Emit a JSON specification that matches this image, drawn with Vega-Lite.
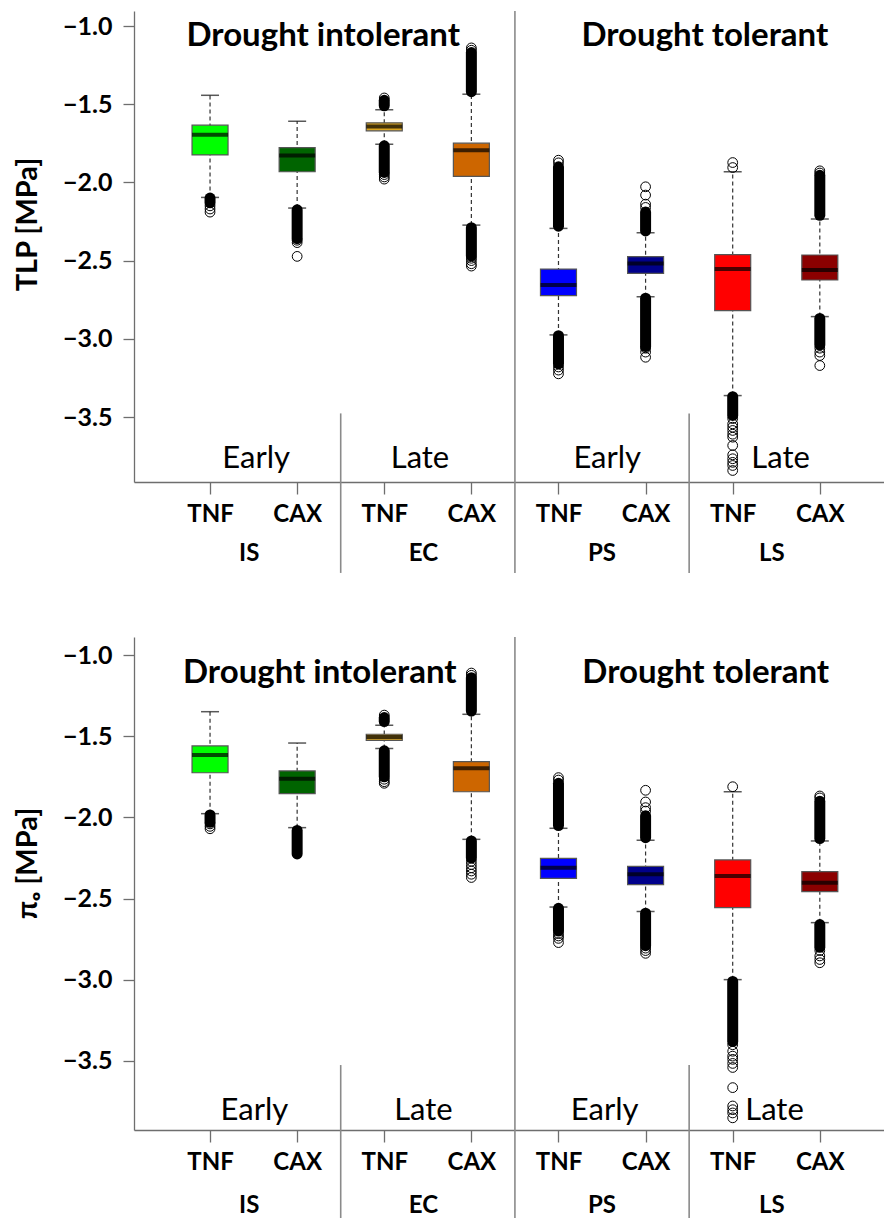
{
  "$schema": "https://vega.github.io/schema/vega-lite/v6.json",
  "padding": {"left": 13, "top": 10, "right": 0, "bottom": 0},
  "bounds": "flush",
  "spacing": 155,
  "config": {
    "view": {"stroke": null},
    "font": "Lato",
    "axis": {"grid": false, "domainColor": "#6e6e6e", "tickColor": "#6e6e6e", "domainWidth": 1.3, "tickWidth": 1.3, "labelColor": "#000", "labelFont": "Lato", "labelFontWeight": "bold", "titleFont": "Lato", "titleColor": "#000"},
    "axisX": {"labelFontSize": 24, "tickSize": 12, "labelPadding": 8, "labelOverlap": false, "labelFlush": false},
    "axisY": {"labelFontSize": 25, "tickSize": 11, "labelPadding": 11, "minExtent": 70, "maxExtent": 70, "titleFontSize": 29, "titleFontWeight": "bold", "titlePadding": 22}
  },
  "datasets": {
    "boxT": [
      {"pos": 1, "id": "IS TNF", "lw": -2.096, "q1": -1.824, "med": -1.696, "q3": -1.634, "uw": -1.443},
      {"pos": 2, "id": "IS CAX", "lw": -2.164, "q1": -1.932, "med": -1.828, "q3": -1.777, "uw": -1.609},
      {"pos": 3, "id": "EC TNF", "lw": -1.756, "q1": -1.670, "med": -1.643, "q3": -1.619, "uw": -1.536},
      {"pos": 4, "id": "EC CAX", "lw": -2.273, "q1": -1.962, "med": -1.794, "q3": -1.749, "uw": -1.436},
      {"pos": 5, "id": "PS TNF", "lw": -2.975, "q1": -2.724, "med": -2.656, "q3": -2.554, "uw": -2.294},
      {"pos": 6, "id": "PS CAX", "lw": -2.731, "q1": -2.582, "med": -2.518, "q3": -2.475, "uw": -2.322},
      {"pos": 7, "id": "LS TNF", "lw": -3.363, "q1": -2.820, "med": -2.554, "q3": -2.462, "uw": -1.932},
      {"pos": 8, "id": "LS CAX", "lw": -2.858, "q1": -2.624, "med": -2.560, "q3": -2.464, "uw": -2.234}
    ],
    "denseT": [
      {"pos": 1, "lo": -2.13, "hi": -2.10},
      {"pos": 2, "lo": -2.36, "hi": -2.175},
      {"pos": 3, "lo": -1.51, "hi": -1.475},
      {"pos": 3, "lo": -1.936, "hi": -1.766},
      {"pos": 4, "lo": -1.42, "hi": -1.17},
      {"pos": 4, "lo": -2.47, "hi": -2.29},
      {"pos": 5, "lo": -2.28, "hi": -1.90},
      {"pos": 5, "lo": -3.16, "hi": -2.98},
      {"pos": 6, "lo": -2.31, "hi": -2.19},
      {"pos": 6, "lo": -3.05, "hi": -2.74},
      {"pos": 7, "lo": -3.49, "hi": -3.37},
      {"pos": 8, "lo": -2.21, "hi": -1.955},
      {"pos": 8, "lo": -3.04, "hi": -2.87}
    ],
    "outT": [
      {"pos": 1, "v": -2.15}, {"pos": 1, "v": -2.17}, {"pos": 1, "v": -2.19},
      {"pos": 2, "v": -2.37}, {"pos": 2, "v": -2.385}, {"pos": 2, "v": -2.473},
      {"pos": 3, "v": -1.46}, {"pos": 3, "v": -1.95}, {"pos": 3, "v": -1.965}, {"pos": 3, "v": -1.979},
      {"pos": 4, "v": -1.14}, {"pos": 4, "v": -1.155}, {"pos": 4, "v": -2.485}, {"pos": 4, "v": -2.50}, {"pos": 4, "v": -2.52}, {"pos": 4, "v": -2.535},
      {"pos": 5, "v": -1.858}, {"pos": 5, "v": -1.875}, {"pos": 5, "v": -3.18}, {"pos": 5, "v": -3.20}, {"pos": 5, "v": -3.224},
      {"pos": 6, "v": -2.028}, {"pos": 6, "v": -2.081}, {"pos": 6, "v": -2.139}, {"pos": 6, "v": -2.16}, {"pos": 6, "v": -3.06}, {"pos": 6, "v": -3.085}, {"pos": 6, "v": -3.118},
      {"pos": 7, "v": -1.873}, {"pos": 7, "v": -1.905}, {"pos": 7, "v": -3.51}, {"pos": 7, "v": -3.544}, {"pos": 7, "v": -3.565}, {"pos": 7, "v": -3.586}, {"pos": 7, "v": -3.61}, {"pos": 7, "v": -3.629}, {"pos": 7, "v": -3.682}, {"pos": 7, "v": -3.742}, {"pos": 7, "v": -3.767}, {"pos": 7, "v": -3.79}, {"pos": 7, "v": -3.81}, {"pos": 7, "v": -3.842},
      {"pos": 8, "v": -1.926}, {"pos": 8, "v": -1.94}, {"pos": 8, "v": -3.06}, {"pos": 8, "v": -3.085}, {"pos": 8, "v": -3.107}, {"pos": 8, "v": -3.171}
    ],
    "divT": [
      {"pos": 4.5, "y1": -0.904, "y2": -4.497},
      {"pos": 2.5, "y1": -3.477, "y2": -4.497},
      {"pos": 6.5, "y1": -3.477, "y2": -4.497}
    ],
    "headT": [
      {"pos": 2.3, "v": -1.128, "t": "Drought intolerant"},
      {"pos": 6.68, "v": -1.128, "t": "Drought tolerant"}
    ],
    "phaseT": [
      {"pos": 1.53, "v": -3.829, "t": "Early"},
      {"pos": 3.41, "v": -3.829, "t": "Late"},
      {"pos": 5.56, "v": -3.829, "t": "Early"},
      {"pos": 7.55, "v": -3.829, "t": "Late"}
    ],
    "grpT": [
      {"pos": 1.45, "v": -4.421, "t": "IS"},
      {"pos": 3.45, "v": -4.421, "t": "EC"},
      {"pos": 5.5, "v": -4.421, "t": "PS"},
      {"pos": 7.45, "v": -4.421, "t": "LS"}
    ],
    "boxB": [
      {"pos": 1, "id": "IS TNF", "lw": -1.977, "q1": -1.725, "med": -1.616, "q3": -1.560, "uw": -1.349},
      {"pos": 2, "id": "IS CAX", "lw": -2.063, "q1": -1.854, "med": -1.762, "q3": -1.714, "uw": -1.542},
      {"pos": 3, "id": "EC TNF", "lw": -1.575, "q1": -1.525, "med": -1.505, "q3": -1.488, "uw": -1.433},
      {"pos": 4, "id": "EC CAX", "lw": -2.135, "q1": -1.842, "med": -1.698, "q3": -1.657, "uw": -1.365},
      {"pos": 5, "id": "PS TNF", "lw": -2.552, "q1": -2.375, "med": -2.310, "q3": -2.252, "uw": -2.067},
      {"pos": 6, "id": "PS CAX", "lw": -2.580, "q1": -2.414, "med": -2.350, "q3": -2.301, "uw": -2.141},
      {"pos": 7, "id": "LS TNF", "lw": -2.999, "q1": -2.556, "med": -2.361, "q3": -2.262, "uw": -1.842},
      {"pos": 8, "id": "LS CAX", "lw": -2.648, "q1": -2.457, "med": -2.402, "q3": -2.334, "uw": -2.145}
    ],
    "denseB": [
      {"pos": 1, "lo": -2.03, "hi": -1.985},
      {"pos": 2, "lo": -2.225, "hi": -2.08},
      {"pos": 3, "lo": -1.41, "hi": -1.385},
      {"pos": 3, "lo": -1.75, "hi": -1.59},
      {"pos": 4, "lo": -1.345, "hi": -1.14},
      {"pos": 4, "lo": -2.25, "hi": -2.145},
      {"pos": 5, "lo": -2.05, "hi": -1.79},
      {"pos": 5, "lo": -2.70, "hi": -2.56},
      {"pos": 6, "lo": -2.125, "hi": -1.99},
      {"pos": 6, "lo": -2.79, "hi": -2.59},
      {"pos": 7, "lo": -3.38, "hi": -3.01},
      {"pos": 8, "lo": -2.13, "hi": -1.90},
      {"pos": 8, "lo": -2.80, "hi": -2.66}
    ],
    "outB": [
      {"pos": 1, "v": -2.04}, {"pos": 1, "v": -2.055}, {"pos": 1, "v": -2.07},
      {"pos": 3, "v": -1.37}, {"pos": 3, "v": -1.765}, {"pos": 3, "v": -1.78}, {"pos": 3, "v": -1.79},
      {"pos": 4, "v": -1.111}, {"pos": 4, "v": -1.125}, {"pos": 4, "v": -2.27}, {"pos": 4, "v": -2.29}, {"pos": 4, "v": -2.31}, {"pos": 4, "v": -2.33}, {"pos": 4, "v": -2.35}, {"pos": 4, "v": -2.37},
      {"pos": 5, "v": -1.755}, {"pos": 5, "v": -1.77}, {"pos": 5, "v": -2.715}, {"pos": 5, "v": -2.73}, {"pos": 5, "v": -2.745}, {"pos": 5, "v": -2.771},
      {"pos": 6, "v": -1.833}, {"pos": 6, "v": -1.905}, {"pos": 6, "v": -1.94}, {"pos": 6, "v": -1.961}, {"pos": 6, "v": -2.805}, {"pos": 6, "v": -2.82}, {"pos": 6, "v": -2.837},
      {"pos": 7, "v": -1.811}, {"pos": 7, "v": -3.40}, {"pos": 7, "v": -3.44}, {"pos": 7, "v": -3.47}, {"pos": 7, "v": -3.49}, {"pos": 7, "v": -3.515}, {"pos": 7, "v": -3.54}, {"pos": 7, "v": -3.664}, {"pos": 7, "v": -3.777}, {"pos": 7, "v": -3.80}, {"pos": 7, "v": -3.82}, {"pos": 7, "v": -3.85},
      {"pos": 8, "v": -1.868}, {"pos": 8, "v": -1.88}, {"pos": 8, "v": -2.82}, {"pos": 8, "v": -2.853}, {"pos": 8, "v": -2.875}, {"pos": 8, "v": -2.895}
    ],
    "divB": [
      {"pos": 4.5, "y1": -0.889, "y2": -4.467},
      {"pos": 2.5, "y1": -3.525, "y2": -4.467},
      {"pos": 6.5, "y1": -3.525, "y2": -4.467}
    ],
    "headB": [
      {"pos": 2.26, "v": -1.172, "t": "Drought intolerant"},
      {"pos": 6.69, "v": -1.172, "t": "Drought tolerant"}
    ],
    "phaseB": [
      {"pos": 1.51, "v": -3.865, "t": "Early"},
      {"pos": 3.45, "v": -3.865, "t": "Late"},
      {"pos": 5.53, "v": -3.865, "t": "Early"},
      {"pos": 7.48, "v": -3.865, "t": "Late"}
    ],
    "grpB": [
      {"pos": 1.45, "v": -4.436, "t": "IS"},
      {"pos": 3.45, "v": -4.436, "t": "EC"},
      {"pos": 5.5, "v": -4.436, "t": "PS"},
      {"pos": 7.45, "v": -4.436, "t": "LS"}
    ]
  },
  "vconcat": [
    {
      "width": 751,
      "height": 471,
      "encoding": {
        "x": {"field": "pos", "type": "quantitative", "scale": {"domain": [0.1845, 8.691], "nice": false, "zero": false},
              "axis": {"values": [1, 2, 3, 4, 5, 6, 7, 8], "labelExpr": "datum.value % 2 == 1 ? 'TNF' : 'CAX'", "title": null}}
      },
      "layer": [
        {
          "data": {"name": "divT"},
          "mark": {"type": "rule", "color": "#8a8a8a", "strokeWidth": 1.6},
          "encoding": {
            "y": {"field": "y1", "type": "quantitative", "scale": {"domain": [-3.9156, -0.904], "nice": false, "zero": false},
                  "axis": {"values": [-1, -1.5, -2, -2.5, -3, -3.5], "format": ".1f", "title": "TLP [MPa]", "titleY": 213}},
            "y2": {"field": "y2"}
          }
        },
        {
          "data": {"values": [{}]},
          "mark": {"type": "rule", "color": "#6e6e6e", "strokeWidth": 1.3},
          "encoding": {
            "x": {"datum": 0.1845, "type": "quantitative"},
            "x2": {"datum": 8.691},
            "y": {"datum": -0.904, "type": "quantitative"}
          }
        },
        {
          "data": {"name": "boxT"},
          "mark": {"type": "rule", "color": "#333", "strokeWidth": 1.2, "strokeDash": [4, 3]},
          "encoding": {"y": {"field": "lw", "type": "quantitative"}, "y2": {"field": "uw"}}
        },
        {
          "data": {"name": "boxT"},
          "mark": {"type": "tick", "color": "#111", "size": 18, "thickness": 1.5, "orient": "horizontal"},
          "encoding": {"y": {"field": "lw", "type": "quantitative"}}
        },
        {
          "data": {"name": "boxT"},
          "mark": {"type": "tick", "color": "#111", "size": 18, "thickness": 1.5, "orient": "horizontal"},
          "encoding": {"y": {"field": "uw", "type": "quantitative"}}
        },
        {
          "data": {"name": "denseT"},
          "mark": {"type": "rule", "color": "#000", "strokeWidth": 11, "strokeCap": "round"},
          "encoding": {"y": {"field": "lo", "type": "quantitative"}, "y2": {"field": "hi"}}
        },
        {
          "data": {"name": "outT"},
          "mark": {"type": "point", "shape": "circle", "filled": false, "color": "#000", "size": 95, "strokeWidth": 1, "opacity": 1},
          "encoding": {"y": {"field": "v", "type": "quantitative"}}
        },
        {
          "data": {"name": "boxT"},
          "mark": {"type": "bar", "width": 36, "stroke": "#555", "strokeWidth": 1.2},
          "encoding": {
            "y": {"field": "q1", "type": "quantitative"},
            "y2": {"field": "q3"},
            "fill": {"field": "id", "type": "nominal", "legend": null,
                     "scale": {"domain": ["IS TNF", "IS CAX", "EC TNF", "EC CAX", "PS TNF", "PS CAX", "LS TNF", "LS CAX"],
                               "range": ["#00ff00", "#006400", "#daa520", "#cd6600", "#0000ff", "#00008b", "#ff0000", "#8b0000"]}}
          }
        },
        {
          "data": {"name": "boxT"},
          "mark": {"type": "tick", "color": "#000", "size": 36, "thickness": 4, "orient": "horizontal"},
          "encoding": {"y": {"field": "med", "type": "quantitative"}}
        },
        {
          "data": {"name": "headT"},
          "mark": {"type": "text", "font": "Lato", "fontSize": 33, "fontWeight": "bold", "align": "center", "baseline": "alphabetic", "color": "#000"},
          "encoding": {"y": {"field": "v", "type": "quantitative"}, "text": {"field": "t"}}
        },
        {
          "data": {"name": "phaseT"},
          "mark": {"type": "text", "font": "Lato", "fontSize": 31, "align": "center", "baseline": "alphabetic", "color": "#000"},
          "encoding": {"y": {"field": "v", "type": "quantitative"}, "text": {"field": "t"}}
        },
        {
          "data": {"name": "grpT"},
          "mark": {"type": "text", "font": "Lato", "fontSize": 24, "fontWeight": "bold", "align": "center", "baseline": "alphabetic", "color": "#000"},
          "encoding": {"y": {"field": "v", "type": "quantitative"}, "text": {"field": "t"}}
        }
      ]
    },
    {
      "width": 751,
      "height": 493,
      "encoding": {
        "x": {"field": "pos", "type": "quantitative", "scale": {"domain": [0.1845, 8.691], "nice": false, "zero": false},
              "axis": {"values": [1, 2, 3, 4, 5, 6, 7, 8], "labelExpr": "datum.value % 2 == 1 ? 'TNF' : 'CAX'", "title": null}}
      },
      "layer": [
        {
          "data": {"name": "divB"},
          "mark": {"type": "rule", "color": "#8a8a8a", "strokeWidth": 1.6},
          "encoding": {
            "y": {"field": "y1", "type": "quantitative", "scale": {"domain": [-3.925, -0.889], "nice": false, "zero": false},
                  "axis": {"values": [-1, -1.5, -2, -2.5, -3, -3.5], "format": ".1f", "title": "πₒ [MPa]", "titleY": 226}},
            "y2": {"field": "y2"}
          }
        },
        {
          "data": {"values": [{}]},
          "mark": {"type": "rule", "color": "#6e6e6e", "strokeWidth": 1.3},
          "encoding": {
            "x": {"datum": 0.1845, "type": "quantitative"},
            "x2": {"datum": 8.691},
            "y": {"datum": -0.889, "type": "quantitative"}
          }
        },
        {
          "data": {"name": "boxB"},
          "mark": {"type": "rule", "color": "#333", "strokeWidth": 1.2, "strokeDash": [4, 3]},
          "encoding": {"y": {"field": "lw", "type": "quantitative"}, "y2": {"field": "uw"}}
        },
        {
          "data": {"name": "boxB"},
          "mark": {"type": "tick", "color": "#111", "size": 18, "thickness": 1.5, "orient": "horizontal"},
          "encoding": {"y": {"field": "lw", "type": "quantitative"}}
        },
        {
          "data": {"name": "boxB"},
          "mark": {"type": "tick", "color": "#111", "size": 18, "thickness": 1.5, "orient": "horizontal"},
          "encoding": {"y": {"field": "uw", "type": "quantitative"}}
        },
        {
          "data": {"name": "denseB"},
          "mark": {"type": "rule", "color": "#000", "strokeWidth": 11, "strokeCap": "round"},
          "encoding": {"y": {"field": "lo", "type": "quantitative"}, "y2": {"field": "hi"}}
        },
        {
          "data": {"name": "outB"},
          "mark": {"type": "point", "shape": "circle", "filled": false, "color": "#000", "size": 95, "strokeWidth": 1, "opacity": 1},
          "encoding": {"y": {"field": "v", "type": "quantitative"}}
        },
        {
          "data": {"name": "boxB"},
          "mark": {"type": "bar", "width": 36, "stroke": "#555", "strokeWidth": 1.2},
          "encoding": {
            "y": {"field": "q1", "type": "quantitative"},
            "y2": {"field": "q3"},
            "fill": {"field": "id", "type": "nominal", "legend": null,
                     "scale": {"domain": ["IS TNF", "IS CAX", "EC TNF", "EC CAX", "PS TNF", "PS CAX", "LS TNF", "LS CAX"],
                               "range": ["#00ff00", "#006400", "#daa520", "#cd6600", "#0000ff", "#00008b", "#ff0000", "#8b0000"]}}
          }
        },
        {
          "data": {"name": "boxB"},
          "mark": {"type": "tick", "color": "#000", "size": 36, "thickness": 4, "orient": "horizontal"},
          "encoding": {"y": {"field": "med", "type": "quantitative"}}
        },
        {
          "data": {"name": "headB"},
          "mark": {"type": "text", "font": "Lato", "fontSize": 33, "fontWeight": "bold", "align": "center", "baseline": "alphabetic", "color": "#000"},
          "encoding": {"y": {"field": "v", "type": "quantitative"}, "text": {"field": "t"}}
        },
        {
          "data": {"name": "phaseB"},
          "mark": {"type": "text", "font": "Lato", "fontSize": 31, "align": "center", "baseline": "alphabetic", "color": "#000"},
          "encoding": {"y": {"field": "v", "type": "quantitative"}, "text": {"field": "t"}}
        },
        {
          "data": {"name": "grpB"},
          "mark": {"type": "text", "font": "Lato", "fontSize": 24, "fontWeight": "bold", "align": "center", "baseline": "alphabetic", "color": "#000"},
          "encoding": {"y": {"field": "v", "type": "quantitative"}, "text": {"field": "t"}}
        }
      ]
    }
  ]
}
